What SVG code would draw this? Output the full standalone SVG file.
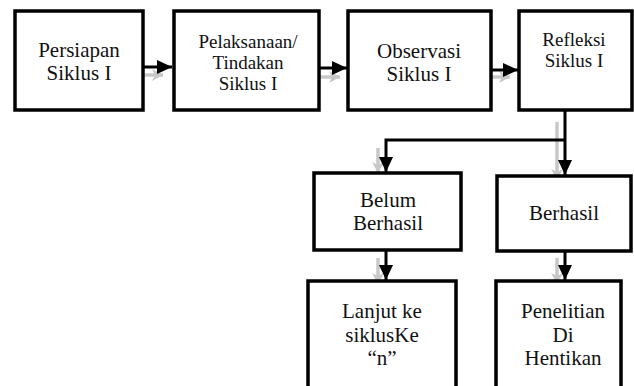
<svg xmlns="http://www.w3.org/2000/svg" width="634" height="386" viewBox="0 0 634 386">
<style>
.box{fill:#fff;stroke:#000;stroke-width:3.5}
.t{font-family:"Liberation Serif","Times New Roman",serif;fill:#111;text-anchor:middle}
.blk{fill:none;stroke:#000;stroke-width:3}
.gry{fill:none;stroke:#c8c8c8;stroke-width:3.5}
</style>
<defs>
<marker id="ab" markerUnits="userSpaceOnUse" markerWidth="16" markerHeight="14" refX="15" refY="7" orient="auto"><path d="M0,0 L15,7 L0,14 Z" fill="#000"/></marker>
<marker id="ag" markerUnits="userSpaceOnUse" markerWidth="12" markerHeight="12" refX="11" refY="6" orient="auto"><path d="M0,0 L11,6 L0,12 L3,6 Z" fill="#c8c8c8"/></marker>
</defs>
<rect width="634" height="386" fill="#fff"/>
<g id="connectors">
<path class="gry" d="M134,75 H163" marker-end="url(#ag)"/>
<path class="blk" d="M143,67 H172" marker-end="url(#ab)"/>
<path class="gry" d="M313,77 H340" marker-end="url(#ag)"/>
<path class="blk" d="M320,68 H347" marker-end="url(#ab)"/>
<path class="gry" d="M483,77 H510" marker-end="url(#ag)"/>
<path class="blk" d="M492,70 H518" marker-end="url(#ab)"/>
<path class="gry" d="M557,122 V180" marker-end="url(#ag)"/>
<path class="gry" d="M378,148 V173" marker-end="url(#ag)"/>
<path class="blk" d="M565,111 V175" marker-end="url(#ab)"/>
<path class="blk" d="M565,140 H386 V172" marker-end="url(#ab)"/>
<path class="gry" d="M378,258 V284" marker-end="url(#ag)"/>
<path class="blk" d="M386,250 V280" marker-end="url(#ab)"/>
<path class="gry" d="M557,258 V284" marker-end="url(#ag)"/>
<path class="blk" d="M565,251 V280" marker-end="url(#ab)"/>
</g>
<g id="n1"><rect class="box" x="15" y="11" width="128" height="99"/>
<text class="t" font-size="21" x="79" y="57">Persiapan</text><text class="t" font-size="21" x="79" y="80">Siklus I</text></g>
<g id="n2"><rect class="box" x="174" y="11" width="145" height="99"/>
<text class="t" font-size="19" x="248" y="48">Pelaksanaan/</text><text class="t" font-size="19" x="248" y="69">Tindakan</text><text class="t" font-size="19" x="248" y="90">Siklus I</text></g>
<g id="n3"><rect class="box" x="348" y="11" width="143" height="99"/>
<text class="t" font-size="21" x="419" y="58">Observasi</text><text class="t" font-size="21" x="419" y="81">Siklus I</text></g>
<g id="n4"><rect class="box" x="519" y="11" width="113" height="99"/>
<text class="t" font-size="19" x="574" y="46">Refleksi</text><text class="t" font-size="19" x="574" y="67">Siklus I</text></g>
<g id="n5"><rect class="box" x="314" y="173" width="147" height="77"/>
<text class="t" font-size="21" x="388" y="207">Belum</text><text class="t" font-size="21" x="388" y="230">Berhasil</text></g>
<g id="n6"><rect class="box" x="497" y="176" width="134" height="75"/>
<text class="t" font-size="21" x="564" y="220">Berhasil</text></g>
<g id="n7"><rect class="box" x="308" y="281" width="148" height="112"/>
<text class="t" font-size="21" x="382" y="318">Lanjut ke</text><text class="t" font-size="21" x="382" y="342">siklusKe</text><text class="t" font-size="21" x="382" y="365">“n”</text></g>
<g id="n8"><rect class="box" x="496" y="281" width="125" height="112"/>
<text class="t" font-size="21" x="563" y="318">Penelitian</text><text class="t" font-size="21" x="563" y="342">Di</text><text class="t" font-size="21" x="563" y="365">Hentikan</text></g>
</svg>
